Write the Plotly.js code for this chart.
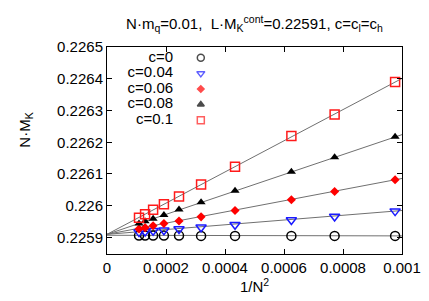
<!DOCTYPE html>
<html>
<head>
<meta charset="utf-8">
<script src="https://cdn.plot.ly/plotly-3.0.1.min.js"></script>
<style>html,body{margin:0;padding:0;background:#fff;}#plot{width:429px;height:301px;}</style>
</head>
<body>
<div id="plot"></div>
<script>
// ---- data ----
var invN2 = [0.0001085, 0.0001291, 0.0001563, 0.0001929, 0.0002441, 0.0003189, 0.0004340, 0.0006250, 0.0007716, 0.0009766];
var c0   = [0.225906, 0.225906, 0.225906, 0.225906, 0.225906, 0.225905, 0.225905, 0.225905, 0.225905, 0.225905];
var c004 = [0.225917, 0.225919, 0.225921, 0.225923, 0.225927, 0.225932, 0.225940, 0.225955, 0.225966, 0.225983];
var c006 = [0.225927, 0.225931, 0.225937, 0.225944, 0.225952, 0.225965, 0.225985, 0.226019, 0.226045, 0.226082];
var c008 = [0.225944, 0.225951, 0.225959, 0.225971, 0.225988, 0.226011, 0.226047, 0.226107, 0.226153, 0.226217];
var c01  = [0.225962, 0.225973, 0.225987, 0.226005, 0.226029, 0.226067, 0.226123, 0.226220, 0.226287, 0.226390];
// linear fits (endpoints x = 0 and x = 0.001)
var fitX    = [0, 0.001];
var fit0    = [0.225907, 0.225905];
var fit004  = [0.225910, 0.225985];
var fit006  = [0.225910, 0.226086];
var fit008  = [0.225910, 0.226224];
var fit01   = [0.225910, 0.226401];
var legendLabels = ['c=0', 'c=0.04', 'c=0.06', 'c=0.08', 'c=0.1'];
var xTickVals = [0, 0.0002, 0.0004, 0.0006, 0.0008, 0.001];
var xTickText = ['0', '0.0002', '0.0004', '0.0006', '0.0008', '0.001'];
var yTickVals = [0.2259, 0.2260, 0.2261, 0.2262, 0.2263, 0.2264, 0.2265];
var yTickText = ['0.2259', '0.226', '0.2261', '0.2262', '0.2263', '0.2264', '0.2265'];

// ---- styles ----
var FONT = 'Liberation Sans, Arial, Helvetica, sans-serif';
var series = [
  {y: c0,   fit: fit0,   symbol: 'circle-open',        color: '#000000', size: 9, lw: 1.5},
  {y: c004, fit: fit004, symbol: 'triangle-down-open', color: '#1a1aff', size: 9, lw: 1.5},
  {y: c006, fit: fit006, symbol: 'diamond',            color: '#ff0000', size: 7, lw: 0},
  {y: c008, fit: fit008, symbol: 'triangle-up',        color: '#000000', size: 8, lw: 0},
  {y: c01,  fit: fit01,  symbol: 'square-open',        color: '#ff1a1a', size: 9, lw: 1.5}
];

var traces = [];
series.forEach(function (s) {
  traces.push({x: fitX, y: s.fit, mode: 'lines', line: {color: '#707070', width: 1},
    showlegend: false, hoverinfo: 'skip'});
});
series.forEach(function (s, i) {
  traces.push({x: invN2, y: s.y, mode: 'markers', name: legendLabels[i], showlegend: false,
    marker: {symbol: s.symbol, size: s.size, color: s.color,
      line: {color: s.color, width: s.lw}}});
});
// key (text right-justified, symbol to the right, like the original)
traces.push({x: legendLabels.map(function () { return 0.224; }), y: legendLabels,
  xaxis: 'x2', yaxis: 'y2', mode: 'text', text: legendLabels, textposition: 'middle left',
  textfont: {family: FONT, size: 15, color: '#000'}, showlegend: false, hoverinfo: 'skip'});
traces.push({x: legendLabels.map(function () { return 0.318; }), y: legendLabels,
  xaxis: 'x2', yaxis: 'y2', mode: 'markers', showlegend: false, hoverinfo: 'skip',
  marker: {symbol: series.map(function (s) { return s.symbol; }),
    size: series.map(function (s) { return s.size - 2; }),
    color: series.map(function (s) { return s.color; }),
    line: {color: series.map(function (s) { return s.color; }), width: 1.5}}});

var layout = {
  width: 429, height: 301,
  margin: {l: 107, r: 27, t: 47, b: 47, pad: 0},
  paper_bgcolor: '#fff', plot_bgcolor: '#fff',
  font: {family: FONT, size: 15, color: '#000'},
  showlegend: false,
  title: {text: 'N·m<sub>q</sub>=0.01,  L·M<sub>K</sub><sup>cont</sup>=0.22591, c=c<sub>l</sub>=c<sub>h</sub>',
    x: 0.5, xref: 'paper', xanchor: 'center', y: 0.92, yref: 'container', yanchor: 'middle',
    font: {family: FONT, size: 15, color: '#000'}},
  xaxis: {range: [0, 0.001], tickvals: xTickVals, ticktext: xTickText,
    ticks: 'inside', ticklen: 5, tickcolor: '#000', tickwidth: 1, mirror: 'ticks',
    showline: true, linecolor: '#000', linewidth: 1, showgrid: false, zeroline: false,
    tickfont: {family: FONT, size: 15},
    title: {text: '1/N<sup>2</sup>', font: {family: FONT, size: 15}, standoff: 5}},
  yaxis: {range: [0.225848, 0.2265], tickvals: yTickVals, ticktext: yTickText,
    ticks: 'inside', ticklen: 5, tickcolor: '#000', tickwidth: 1, mirror: 'ticks',
    showline: true, linecolor: '#000', linewidth: 1, showgrid: false, zeroline: false,
    tickfont: {family: FONT, size: 15}},
  xaxis2: {overlaying: 'x', range: [0, 1], visible: false, fixedrange: true},
  yaxis2: {overlaying: 'y', type: 'category', range: [12.58, -0.691], visible: false, fixedrange: true},
  annotations: [{text: 'N·M<sub>K</sub>', textangle: -90, xref: 'paper', yref: 'paper',
    x: -0.275, y: 0.6, xanchor: 'center', yanchor: 'middle', showarrow: false,
    font: {family: FONT, size: 15, color: '#000'}}]
};

Plotly.newPlot('plot', traces, layout, {displayModeBar: false, staticPlot: true});
</script>
</body>
</html>
